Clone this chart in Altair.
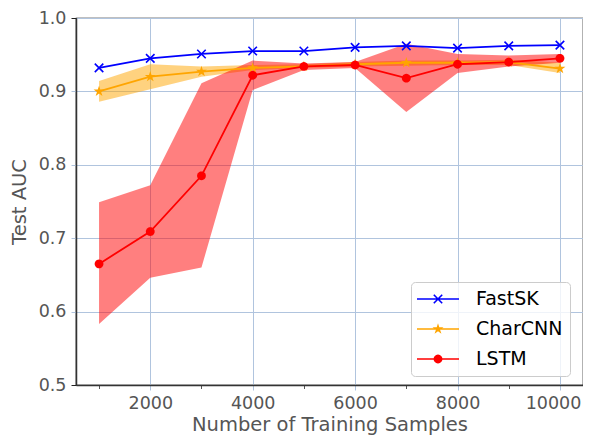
import math
import altair as alt
import pandas as pd

# ---------------- data ----------------
series_names = ["FastSK", "CharCNN", "LSTM"]
series_colors = ["#0000ff", "#ffa500", "#ff0000"]
train_n = [1000, 2000, 3000, 4000, 5000, 6000, 7000, 8000, 9000, 10000]

fastsk = [0.932, 0.945, 0.951, 0.955, 0.955, 0.960, 0.962, 0.959, 0.962, 0.963]

charcnn = [0.900, 0.920, 0.927, 0.932, 0.934, 0.937, 0.939, 0.939, 0.940, 0.931]
charcnn_lo = [0.886, 0.903, 0.920, 0.929, 0.932, 0.934, 0.935, 0.936, 0.936, 0.925]
charcnn_hi = [0.914, 0.937, 0.934, 0.936, 0.937, 0.940, 0.942, 0.942, 0.943, 0.939]

lstm = [0.665, 0.709, 0.785, 0.922, 0.934, 0.936, 0.918, 0.937, 0.940, 0.945]
lstm_lo = [0.583, 0.646, 0.660, 0.902, 0.929, 0.932, 0.872, 0.925, 0.934, 0.939]
lstm_hi = [0.749, 0.772, 0.911, 0.942, 0.938, 0.940, 0.965, 0.951, 0.949, 0.951]

y_ticks = [0.5, 0.6, 0.7, 0.8, 0.9, 1.0]

rows = []
for i, n in enumerate(train_n):
    rows.append({"series": "FastSK", "n": n, "mean": fastsk[i], "lo": None, "hi": None})
    rows.append({"series": "CharCNN", "n": n, "mean": charcnn[i], "lo": charcnn_lo[i], "hi": charcnn_hi[i]})
    rows.append({"series": "LSTM", "n": n, "mean": lstm[i], "lo": lstm_lo[i], "hi": lstm_hi[i]})
df = pd.DataFrame(rows)

# ---------------- marker paths ----------------
def _orient(pts):
    a = 0.0
    for (x1, y1), (x2, y2) in zip(pts, pts[1:] + pts[:1]):
        a += x1 * y2 - x2 * y1
    return pts if a > 0 else pts[::-1]

def _poly(pts):
    pts = _orient(pts)
    return "M" + "L".join(f"{x:.4f},{y:.4f}" for x, y in pts) + "Z"

def x_path(a, t):
    d = t / math.sqrt(2)
    r1 = [(-a + d, -a - d), (a + d, a - d), (a - d, a + d), (-a - d, -a + d)]
    r2 = [(-a + d, a + d), (a + d, -a + d), (a - d, -a - d), (-a - d, a - d)]
    return _poly(r1) + _poly(r2)

def star_path(R, r):
    pts = []
    for k in range(10):
        ang = math.radians(-90 + 36 * k)
        rad = R if k % 2 == 0 else r
        pts.append((rad * math.cos(ang), rad * math.sin(ang)))
    return _poly(pts)

def circle_path(r, n=24):
    return _poly([(r * math.cos(2 * math.pi * k / n), r * math.sin(2 * math.pi * k / n)) for k in range(n)])

def line_path(h, t):
    return _poly([(-h, -t), (h, -t), (h, t), (-h, t)])

# data markers: size 100 -> 1 unit = 5 px
point_shapes = [x_path(0.85, 0.16), star_path(1.15, 0.44), circle_path(0.88)]
# legend markers: size 400 -> 1 unit = 10 px
legend_shapes = [
    line_path(2.1, 0.085) + x_path(0.42, 0.08),
    line_path(2.1, 0.085) + star_path(0.58, 0.22),
    line_path(2.1, 0.085) + circle_path(0.44),
]

color_scale = alt.Scale(domain=series_names, range=series_colors)
x_scale = alt.Scale(domain=[550, 10450], nice=False, zero=False)
y_scale = alt.Scale(domain=[0.5, 1.0], nice=False, zero=False)

GRID = "#b0c4de"

x_axis = alt.Axis(
    title="Number of Training Samples",
    values=train_n,
    format="d",
    labelExpr="datum.value % 2000 === 0 ? datum.label : ''",
    grid=True,
    gridColor=GRID,
    gridOpacity={"condition": {"test": "datum.value % 2000 !== 0", "value": 0}, "value": 1},
    tickColor={"condition": {"test": "datum.value % 2000 !== 0", "value": "#555555"}, "value": GRID},
    tickSize={"condition": {"test": "datum.value % 2000 !== 0", "value": 3.5}, "value": 5},
    labelOffset={"condition": {"test": "datum.value === 10000", "value": -7}, "value": 0},
    labelPadding=4,
    titlePadding=4,
)
y_axis = alt.Axis(
    title="Test AUC",
    values=y_ticks,
    format=".1f",
    grid=True,
    gridColor=GRID,
    tickColor={"condition": {"test": "datum.value < 0.55 || datum.value > 0.95", "value": "#222222"}, "value": GRID},
    tickSize=5,
    labelPadding=5,
    titlePadding=9,
)

base = alt.Chart(df)
X = alt.X("n:Q", scale=x_scale, axis=x_axis)
Y = alt.Y("mean:Q", scale=y_scale, axis=y_axis)

band_cnn = base.transform_filter("datum.series === 'CharCNN'").mark_area(opacity=0.5).encode(
    x=X, y=alt.Y("lo:Q", scale=y_scale, axis=y_axis), y2="hi:Q",
    color=alt.Color("series:N", scale=color_scale, legend=None),
)
band_lstm = base.transform_filter("datum.series === 'LSTM'").mark_area(opacity=0.5).encode(
    x=X, y=alt.Y("lo:Q", scale=y_scale, axis=y_axis), y2="hi:Q",
    color=alt.Color("series:N", scale=color_scale, legend=None),
)
lines = base.mark_line(strokeWidth=1.8).encode(
    x=X, y=Y,
    color=alt.Color("series:N", scale=color_scale, legend=None),
    detail="series:N",
)
points = base.mark_point(filled=True, size=100, opacity=1).encode(
    x=X, y=Y,
    color=alt.Color("series:N", scale=color_scale, legend=None),
    shape=alt.Shape("series:N", scale=alt.Scale(domain=series_names, range=point_shapes), legend=None),
)

leg = alt.Legend(
    title=None,
    orient="none",
    legendX=335,
    legendY=264,
    symbolSize=400,
    symbolStrokeWidth=0,
    symbolOpacity=1,
    symbolOffset=10,
    labelOffset=28,
    labelFontSize=19,
    labelFont="DejaVu Sans",
    labelColor="#000000",
    rowPadding=10,
    padding=7,
    fillColor="rgba(255,255,255,0.8)",
    strokeColor="#cccccc",
    cornerRadius=4,
)
legend_layer = base.transform_filter("datum.series === 'LSTM'").mark_point(filled=True, size=400).encode(
    x=X, y=Y,
    color=alt.Color("series:N", scale=color_scale, legend=leg),
    shape=alt.Shape("series:N", scale=alt.Scale(domain=series_names, range=legend_shapes), legend=leg),
    opacity=alt.value(0),
)

chart = (
    alt.layer(band_cnn, band_lstm, lines, points, legend_layer)
    .resolve_scale(shape="independent")
    .resolve_legend(color="independent", shape="independent")
    .properties(
        width=507,
        height=367,
        autosize=alt.AutoSizeParams(type="none"),
        padding={"left": 68, "top": 10, "right": 0, "bottom": 51},
    )
    .configure_view(stroke="#000000", strokeWidth=1.2)
    .configure_axis(
        labelFont="DejaVu Sans",
        titleFont="DejaVu Sans",
        labelFontSize=17.5,
        titleFontSize=19.5,
        labelColor="#555555",
        titleColor="#555555",
        titleFontWeight="normal",
        domainColor="#333333",
        domainWidth=1.5,
        gridWidth=1,
    )
)

chart.save("out.html", embed_options={"renderer": "svg", "actions": False})
